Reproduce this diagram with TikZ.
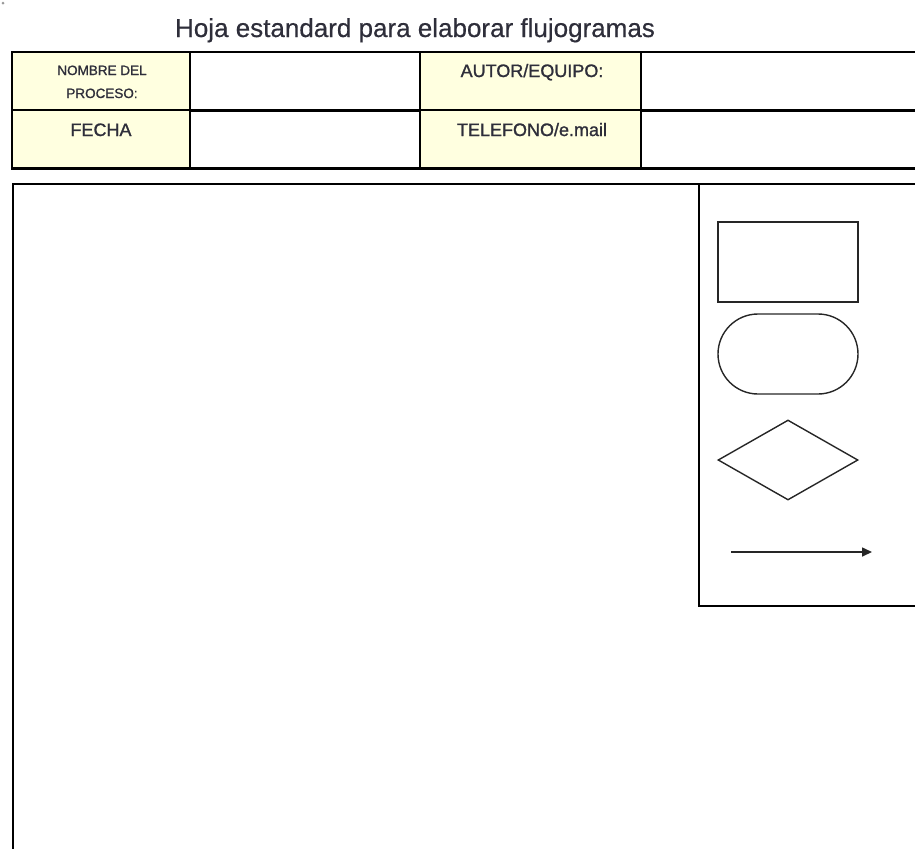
\documentclass[tikz,border=0pt]{standalone}
\usepackage{fontspec}
\setmainfont{Liberation Sans}
\newfontfamily\heavyfont[FakeBold=1.2]{Liberation Sans}
\newfontfamily\titlefont[FakeBold=0.5]{Liberation Sans}
\usetikzlibrary{shapes.geometric,arrows.meta}
\definecolor{cellyellow}{HTML}{FFFFE0}
\definecolor{textgray}{HTML}{2E2E3A}

\begin{document}
\begin{tikzpicture}[x=1pt,y=-1pt,
  cell/.style={draw=black,line width=2.2pt,anchor=north west,inner sep=0pt,outer sep=0pt},
  label/.style={text=textgray,font=\heavyfont\fontsize{18}{20}\selectfont,inner sep=0pt,anchor=base},
  symbol/.style={draw=black!85,line width=1.4pt,inner sep=0pt,minimum width=140pt,minimum height=80pt}]
\useasboundingbox (0,0) rectangle (915,849);

% Parameters
\def\rowA{52}
\def\rowB{110}
\def\rowH{58.5}
\def\legendX{788}

% stray dot
\fill[black!40] (3,3) circle (1.5);

% Title
\node[text=textgray,font=\titlefont\fontsize{26}{30}\selectfont,anchor=base,inner sep=0pt] (title) at (415,37) {Hoja estandard para elaborar flujogramas};

% Header table
\node[cell,fill=cellyellow,minimum width=178pt,minimum height=\rowH pt] (nombre) at (12,\rowA) {};
\node[cell,minimum width=230pt,minimum height=\rowH pt] (nombreval) at (190,\rowA) {};
\node[cell,fill=cellyellow,minimum width=221pt,minimum height=\rowH pt] (autor) at (420,\rowA) {};
\node[cell,minimum width=300pt,minimum height=\rowH pt] (autorval) at (641,\rowA) {};
\node[cell,fill=cellyellow,minimum width=178pt,minimum height=\rowH pt] (fecha) at (12,\rowB) {};
\node[cell,minimum width=230pt,minimum height=\rowH pt] (fechaval) at (190,\rowB) {};
\node[cell,fill=cellyellow,minimum width=221pt,minimum height=\rowH pt] (telefono) at (420,\rowB) {};
\node[cell,minimum width=300pt,minimum height=\rowH pt] (telefonoval) at (641,\rowB) {};

% Table labels
\node[label,font=\heavyfont\fontsize{13.5}{15}\selectfont] (nombreA) at (102,75) {NOMBRE DEL};
\node[label,font=\heavyfont\fontsize{13.5}{15}\selectfont] (nombreB) at (102,98) {PROCESO:};
\node[label] (fechalbl) at (101,136) {FECHA};
\node[label] (autorlbl) at (532,77) {AUTOR/EQUIPO:};
\node[label] (telefonolbl) at (532,136) {TELEFONO/e.mail};

% Drawing area and legend panel
\draw[line width=2pt] (930,184) -- (13,184) -- (13,849);
\draw[line width=2pt] (699,184) -- (699,606) -- (930,606);

% Legend symbols
\node[symbol] (proceso) at (\legendX,262) {};
\node[symbol,rounded corners=40pt] (terminal) at (\legendX,354) {};
\node[symbol,shape=diamond,aspect=1.75] (decision) at (\legendX,460) {};
\coordinate (flechaA) at (731,552);
\coordinate (flechaB) at (872,552);
\draw[line width=1.6pt,draw=black!85,-{Triangle[length=10pt,width=9pt]}] (flechaA) -- (flechaB);

\end{tikzpicture}
\end{document}
